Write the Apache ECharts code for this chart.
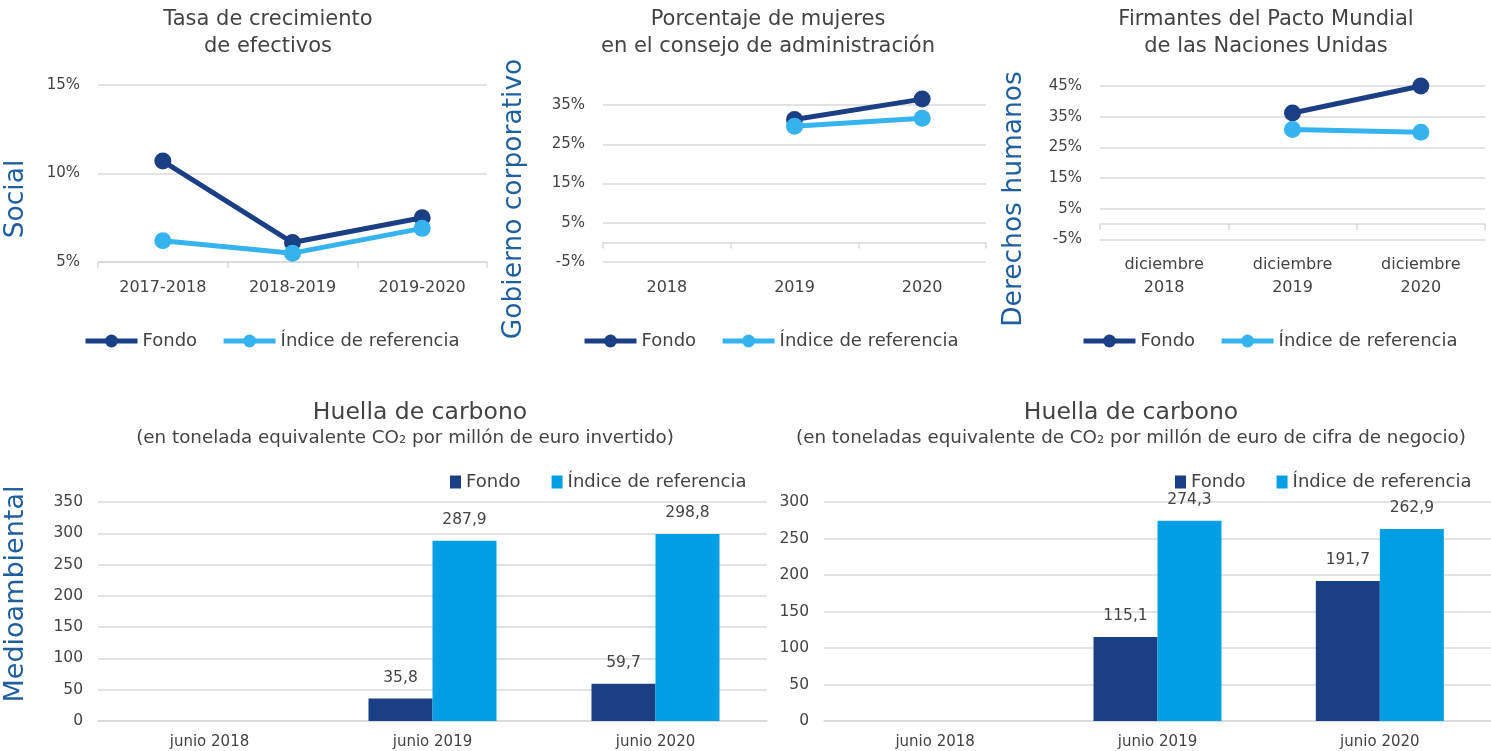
<!DOCTYPE html>
<html>
<head>
<meta charset="utf-8">
<script src="https://cdn.jsdelivr.net/npm/echarts@6/dist/echarts.min.js"></script>
<style>
html,body{margin:0;padding:0;background:#fff;}
#c{width:1491px;height:751px;}
</style>
</head>
<body>
<div id="c"></div>
<script>
// ---- data ----
const socialCats = ['2017-2018', '2018-2019', '2019-2020'];
const socialFondo = [10.7, 6.1, 7.5];
const socialIndice = [6.2, 5.5, 6.9];

const govCats = ['2018', '2019', '2020'];
const govFondo = [null, 31.3, 36.5];
const govIndice = [null, 29.6, 31.6];

const dhCats = ['diciembre\n2018', 'diciembre\n2019', 'diciembre\n2020'];
const dhFondo = [null, 36.2, 45.0];
const dhIndice = [null, 30.8, 29.9];

const carbonCats = ['junio 2018', 'junio 2019', 'junio 2020'];
const carbonInvFondo = [null, 35.8, 59.7];
const carbonInvIndice = [null, 287.9, 298.8];
const carbonNegFondo = [null, 115.1, 191.7];
const carbonNegIndice = [null, 274.3, 262.9];

// ---- style ----
const FONT = 'DejaVu Sans';
const TXT = '#434343';
const NAVY = '#1b3f84';
const LIGHT = '#35b3ee';
const BARLIGHT = '#009fe3';
const SIDE = '#1f5f9e';
const GRIDC = '#d9d9d9';

const chart = echarts.init(document.getElementById('c'), null, {renderer: 'canvas'});

const lineGrids = [
  {left: 98, top: 85, width: 389, height: 177},
  {left: 603, top: 105, width: 383, height: 157},
  {left: 1100, top: 86, width: 385, height: 153.5}
];
const barGrids = [
  {left: 98, top: 502, width: 669, height: 219},
  {left: 824, top: 502, width: 667, height: 219}
];

const grids = lineGrids.concat(barGrids);
const xAxes = [];
const yAxes = [];
const series = [];

function lineX(gi, cats) {
  xAxes.push({
    type: 'category', gridIndex: gi, data: cats, position: 'bottom',
    axisLine: {show: false, onZero: false}, axisTick: {show: false},
    axisLabel: {color: TXT, fontFamily: FONT, fontSize: 16, margin: 14, lineHeight: 23}
  });
  xAxes.push({
    type: 'category', gridIndex: gi, data: cats, position: 'bottom',
    axisLine: {show: true, onZero: true, lineStyle: {color: GRIDC, width: 1.5}},
    axisTick: {show: true, length: 6, lineStyle: {color: GRIDC, width: 1.5}},
    axisLabel: {show: false}
  });
}
function lineY(gi, min, max, interval) {
  yAxes.push({
    type: 'value', gridIndex: gi, min: min, max: max, interval: interval,
    axisLine: {show: false}, axisTick: {show: false},
    splitLine: {lineStyle: {color: GRIDC, width: 1.5}},
    axisLabel: {color: TXT, fontFamily: FONT, fontSize: 15, margin: 18, formatter: '{value}%'}
  });
}
function addLines(gi, fondo, indice) {
  const xi = gi * 2;
  const common = {type: 'line', xAxisIndex: xi, yAxisIndex: gi, symbol: 'circle', symbolSize: 17,
    clip: false, connectNulls: false, z: 3};
  series.push(Object.assign({}, common, {name: 'Fondo', data: fondo,
    lineStyle: {color: NAVY, width: 5}, itemStyle: {color: NAVY}}));
  series.push(Object.assign({}, common, {name: 'Índice de referencia', data: indice, z: 4,
    lineStyle: {color: LIGHT, width: 5}, itemStyle: {color: LIGHT}}));
}

lineX(0, socialCats); lineY(0, 5, 15, 5); addLines(0, socialFondo, socialIndice);
lineX(1, govCats); lineY(1, -5, 35, 10); addLines(1, govFondo, govIndice);
lineX(2, dhCats); lineY(2, -5, 45, 10); addLines(2, dhFondo, dhIndice);

const fmtComma = p => p.value == null ? '' : p.value.toFixed(1).replace('.', ',');
function barChart(gi, max, yMargin, fondo, indice, suffix) {
  const xi = xAxes.length;
  xAxes.push({
    type: 'category', gridIndex: gi, data: carbonCats,
    axisLine: {show: true, lineStyle: {color: GRIDC, width: 1.5}}, axisTick: {show: false},
    axisLabel: {color: TXT, fontFamily: FONT, fontSize: 15, margin: 14}
  });
  const yi = yAxes.length;
  yAxes.push({
    type: 'value', gridIndex: gi, min: 0, max: max, interval: 50,
    axisLine: {show: false}, axisTick: {show: false},
    splitLine: {lineStyle: {color: GRIDC, width: 1.5}},
    axisLabel: {color: TXT, fontFamily: FONT, fontSize: 15.5, margin: yMargin}
  });
  const lbl = {show: true, position: 'top', distance: 13, color: TXT, fontFamily: FONT, fontSize: 15.5, formatter: fmtComma};
  series.push({type: 'bar', name: 'Fondo' + suffix, xAxisIndex: xi, yAxisIndex: yi, data: fondo,
    barWidth: 64, barGap: '0%', itemStyle: {color: NAVY}, label: lbl});
  series.push({type: 'bar', name: 'Índice de referencia' + suffix, xAxisIndex: xi, yAxisIndex: yi, data: indice,
    barWidth: 64, barGap: '0%', itemStyle: {color: BARLIGHT}, label: lbl});
}
barChart(3, 350, 15, carbonInvFondo, carbonInvIndice, ' #a');
barChart(4, 300, 15, carbonNegFondo, carbonNegIndice, ' #b');

const legTxt = {color: TXT, fontFamily: FONT, fontSize: 18};
function lineLegend(left) {
  return {left: left, top: 332, padding: 0, itemWidth: 52, itemHeight: 16, itemGap: 24,
    lineStyle: {width: 5},
    data: ['Fondo', 'Índice de referencia'], textStyle: legTxt, selectedMode: false};
}
function barLegend(left, gap, suffix) {
  return {left: left, top: 473, padding: 0, itemWidth: 11, itemHeight: 13, itemGap: gap, icon: 'rect',
    data: ['Fondo' + suffix, 'Índice de referencia' + suffix], textStyle: legTxt, selectedMode: false,
    formatter: n => n.replace(suffix, '')};
}

function txt(x, y, text, size, color, rot, lh) {
  return {type: 'text', x: x, y: y, rotation: rot || 0, silent: true,
    style: {text: text, fill: color, font: size + 'px "' + FONT + '"', align: 'center', verticalAlign: 'middle', lineHeight: lh || size * 1.3}};
}

const graphics = [
  txt(268, 33, 'Tasa de crecimiento\nde efectivos', 21, TXT, 0, 27),
  txt(768, 33, 'Porcentaje de mujeres\nen el consejo de administración', 21, TXT, 0, 27),
  txt(1266, 33, 'Firmantes del Pacto Mundial\nde las Naciones Unidas', 21, TXT, 0, 27),
  txt(420, 413, 'Huella de carbono', 23.5, TXT),
  txt(405, 438, '(en tonelada equivalente CO₂ por millón de euro invertido)', 18.3, TXT),
  txt(1131, 413, 'Huella de carbono', 23.5, TXT),
  txt(1131, 438, '(en toneladas equivalente de CO₂ por millón de euro de cifra de negocio)', 18.3, TXT),
  txt(16, 199, 'Social', 26.5, SIDE, Math.PI / 2),
  txt(514, 199, 'Gobierno corporativo', 26.5, SIDE, Math.PI / 2),
  txt(1014, 199, 'Derechos humanos', 26.5, SIDE, Math.PI / 2),
  txt(16, 594, 'Medioambiental', 27, SIDE, Math.PI / 2)
];

chart.setOption({
  backgroundColor: '#ffffff',
  animation: false,
  grid: grids,
  xAxis: xAxes,
  yAxis: yAxes,
  legend: [lineLegend(83), lineLegend(582), lineLegend(1081), barLegend(450, 31, ' #a'), barLegend(1175, 31, ' #b')],
  series: series,
  graphic: graphics
});
</script>
</body>
</html>
